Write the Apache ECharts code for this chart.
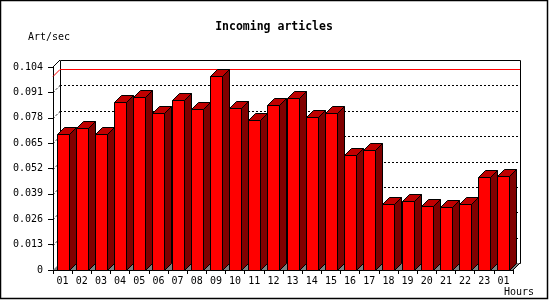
<!DOCTYPE html>
<html>
<head>
<meta charset="utf-8">
<script src="https://cdn.jsdelivr.net/npm/echarts@6/dist/echarts.min.js"></script>
<style>html,body{margin:0;padding:0;background:#fff}#c{width:550px;height:300px}</style>
</head>
<body>
<div id="c"></div>
<script>
var hours = ['01','02','03','04','05','06','07','08','09','10','11','12','13','14','15','16','17','18','19','20','21','22','23','01'];
var articles = [0.0695,0.0726,0.0695,0.0860,0.0885,0.0804,0.0870,0.0823,0.0994,0.0828,0.0768,0.0844,0.0880,0.0782,0.0803,0.0588,0.0615,0.0337,0.0353,0.0326,0.0321,0.0337,0.0475,0.0480];
var yTicks = [0.013,0.026,0.039,0.052,0.065,0.078,0.091];
var yMin = 0, yMax = 0.104, yStep = 0.013;
var titleText = 'Incoming articles';
var yName = 'Art/sec';
var xName = 'Hours';

var DX = 7, DY = 7, FACE = 12;
var FONT = 'DejaVu Sans Mono';
var maxVal = Math.max.apply(null, articles);

var chart = echarts.init(document.getElementById('c'), null, {renderer:'canvas'});

function frameItem(params, api) {
  var cs = params.coordSys;
  var x = cs.x, y = cs.y, w = cs.width, h = cs.height;
  var ch = [];
  // back wall
  ch.push({type:'rect', shape:{x:x+DX+0.5, y:y-DY+0.5, width:w, height:h},
    style:{fill:'#ffffff', stroke:'#000', lineWidth:1}});
  // floor
  ch.push({type:'polygon', shape:{points:[[x,y+h],[x+w,y+h],[x+w+DX,y+h-DY],[x+DX,y+h-DY]]},
    style:{fill:'#808080', stroke:null}});
  // dotted grid on back wall and left wall
  for (var i = 0; i < yTicks.length; i++) {
    var py = Math.round(api.coord([0, yTicks[i]])[1]) + 0.5;
    ch.push({type:'line', shape:{x1:x+DX, y1:py-DY, x2:x+w+DX, y2:py-DY},
      style:{stroke:'#000', lineWidth:1, lineDash:[2,2]}});
    ch.push({type:'line', shape:{x1:x, y1:py, x2:x+DX, y2:py-DY},
      style:{stroke:'#000', lineWidth:1, lineDash:[2,2]}});
  }
  // max line
  var my = Math.round(api.coord([0, maxVal])[1]) + 0.5;
  ch.push({type:'line', shape:{x1:x+DX, y1:my-DY, x2:x+w+DX, y2:my-DY},
    style:{stroke:'#ff0000', lineWidth:1}});
  ch.push({type:'line', shape:{x1:x, y1:my, x2:x+DX, y2:my-DY},
    style:{stroke:'#ff0000', lineWidth:1}});
  // edges
  ch.push({type:'line', shape:{x1:x, y1:y, x2:x+DX, y2:y-DY}, style:{stroke:'#000', lineWidth:1}});
  ch.push({type:'line', shape:{x1:x+w, y1:y+h, x2:x+w+DX, y2:y+h-DY}, style:{stroke:'#000', lineWidth:1}});
  return {type:'group', children:ch};
}

function barItem(params, api) {
  var idx = api.value(0);
  var top = api.coord([idx, api.value(1)]);
  var base = api.coord([idx, 0]);
  var cx = top[0];
  var xL = Math.round(cx - FACE/2) + 0.5, xR = xL + FACE;
  var yT = Math.round(top[1]) + 0.5, yB = Math.round(base[1]) + 0.5;
  var st = {stroke:'#000', lineWidth:1, lineJoin:'miter'};
  return {type:'group', children:[
    {type:'polygon', shape:{points:[[xR,yB],[xR+DX,yB-DY],[xR+DX,yT-DY],[xR,yT]]},
      style:Object.assign({fill:'#800000'}, st)},
    {type:'polygon', shape:{points:[[xL,yT],[xR,yT],[xR+DX,yT-DY],[xL+DX,yT-DY]]},
      style:Object.assign({fill:'#c00000'}, st)},
    {type:'rect', shape:{x:xL, y:yT, width:FACE, height:yB-yT},
      style:Object.assign({fill:'#ff0000'}, st)}
  ]};
}

var option = {
  animation: false,
  backgroundColor: '#ffffff',
  textStyle: {fontFamily: FONT},
  grid: {left:53, right:37, top:67, bottom:30},
  xAxis: {
    type:'category', data: hours,
    axisLine:{lineStyle:{color:'#000', width:1}},
    axisTick:{show:true, length:4, lineStyle:{color:'#000'}},
    axisLabel:{color:'#000', fontFamily:FONT, fontSize:10, margin:6, interval:0},
    splitLine:{show:false}
  },
  yAxis: {
    type:'value', min:yMin, max:yMax, interval:yStep,
    axisLine:{show:true, lineStyle:{color:'#000', width:1}},
    axisTick:{show:true, length:5, lineStyle:{color:'#000'}},
    axisLabel:{color:'#000', fontFamily:FONT, fontSize:10, margin:10,
      formatter:function(v){ return v === 0 ? '0' : String(+v.toFixed(3)); }},
    splitLine:{show:false}
  },
  graphic: [
    {type:'rect', shape:{x:0.5, y:0.5, width:547, height:298}, style:{fill:null, stroke:'#000', lineWidth:1.5}, silent:true},
    {type:'text', x:274, top:21, style:{text:titleText, font:'bold 11.5px "DejaVu Sans Mono"', fill:'#000', textAlign:'center'}},
    {type:'text', x:28, y:32, style:{text:yName, font:'10px "DejaVu Sans Mono"', fill:'#000'}},
    {type:'text', x:534, y:287, style:{text:xName, font:'10px "DejaVu Sans Mono"', fill:'#000', textAlign:'right'}}
  ],
  series: [
    {type:'custom', z:1, renderItem: frameItem, data:[[0,0]], silent:true},
    {type:'custom', z:2, renderItem: barItem,
      data: articles.map(function(v,i){ return [i, v]; }),
      encode:{x:0, y:1}}
  ]
};
chart.setOption(option);
</script>
</body>
</html>
